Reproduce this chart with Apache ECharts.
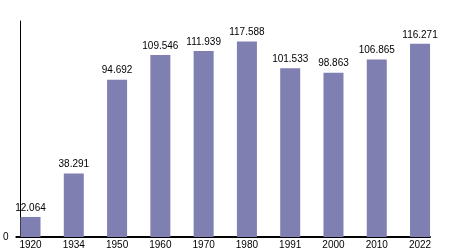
<!DOCTYPE html>
<html><head><meta charset="utf-8">
<script src="https://cdn.jsdelivr.net/npm/echarts@6/dist/echarts.min.js"></script>
<style>html,body{margin:0;padding:0;background:#fff}#c{width:450px;height:250px}</style>
</head><body><div id="c"></div>
<script>
const categories = ['1920','1934','1950','1960','1970','1980','1991','2000','2010','2022'];
const values = [12.064, 38.291, 94.692, 109.546, 111.939, 117.588, 101.533, 98.863, 106.865, 116.271];
const labels = ['12.064','38.291','94.692','109.546','111.939','117.588','101.533','98.863','106.865','116.271'];
const yTicks = [0];

const chart = echarts.init(document.getElementById('c'), null, {renderer:'canvas'});
const font = {fontFamily:'Liberation Sans, Arial, sans-serif', fontSize:10, color:'#000'};
chart.setOption({
  animation:false,
  grid:{left:20, right:20, top:21, bottom:13},
  xAxis:{type:'value', min:-0.23, max:9.23,
    axisLine:{show:true, onZero:false, lineStyle:{color:'#000', width:2}},
    axisTick:{show:false}, splitLine:{show:false},
    axisLabel:Object.assign({margin:3, customValues:categories.map((c,i)=>i),
      formatter:v=>categories[Math.round(v)] ?? ''}, font)},
  yAxis:{type:'value', min:0, max:130,
    axisLine:{show:true, onZero:false, lineStyle:{color:'#000', width:1}},
    axisTick:{show:true, length:5, customValues:yTicks, lineStyle:{color:'#000', width:2}},
    splitLine:{show:false},
    axisLabel:Object.assign({margin:12, customValues:yTicks, formatter:v=>String(v)}, font)},
  series:[{type:'bar', barWidth:20,
    data:values.map((v,i)=>[i,v]),
    itemStyle:{color:'#7f7fb1'},
    label:Object.assign({show:true, position:'top', distance:4,
      formatter:p=>labels[p.dataIndex]}, font)}]
});
</script></body></html>
